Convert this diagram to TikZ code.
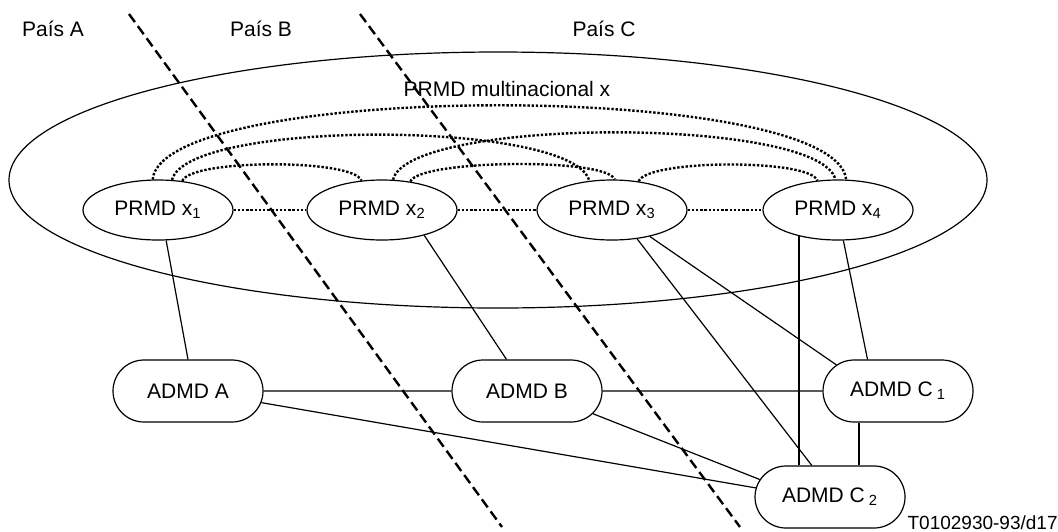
\documentclass[tikz,border=0pt]{standalone}
\usepackage{fontspec}
\setmainfont{Liberation Sans}
\usetikzlibrary{shapes.geometric,shapes.misc}

\begin{document}
\begin{tikzpicture}[x=0.5pt,y=-0.5pt,
  font=\fontsize{10.5}{12}\selectfont,
  prmd/.style={ellipse,draw,line width=0.6pt,minimum width=75pt,minimum height=30pt,inner sep=0pt},
  admd/.style={rounded rectangle,draw,line width=0.6pt,minimum width=75pt,minimum height=31pt,inner sep=0pt},
  enlace/.style={line width=0.6pt},
  grueso/.style={line width=1.1pt},
  punteado/.style={line width=1.2pt,dash pattern=on 1.2pt off 0.9pt},
  frontera/.style={line width=1.2pt,dash pattern=on 5pt off 2.5pt}]
\useasboundingbox (0,0) rectangle (1058,531);

% paises y fronteras
\node[anchor=base] (paisA) at (53,36) {País A};
\node[anchor=base] (paisB) at (261,36) {País B};
\node[anchor=base] (paisC) at (604,36) {País C};
\draw[frontera] (129,14) -- (502,527);
\draw[frontera] (360,14) -- (740,527);

% PRMD multinacional
\draw[enlace] (498,180) ellipse [x radius=244.5pt, y radius=64pt];
\node[anchor=base] (multi) at (507,96) {PRMD multinacional x};
\node[prmd] (x1) at (158,210) {PRMD x\textsubscript{1}};
\node[prmd] (x2) at (382,210) {PRMD x\textsubscript{2}};
\node[prmd] (x3) at (612,210) {PRMD x\textsubscript{3}};
\node[prmd] (x4) at (838,210) {PRMD x\textsubscript{4}};

\draw[punteado] (x1) -- (x2);
\draw[punteado] (x2) -- (x3);
\draw[punteado] (x3) -- (x4);
\draw[punteado] (x1.100) .. controls +(10,-99) and +(-10,-99) .. (x4.75);
\draw[punteado] (x1.65) .. controls +(15,-61) and +(-15,-61) .. (x3.128);
\draw[punteado] (x2.70) .. controls +(15,-63) and +(-15,-63) .. (x4.95);
\draw[punteado] (x1.50) .. controls +(8,-22) and +(-8,-22) .. (x2.125);
\draw[punteado] (x2.45) .. controls +(8,-22) and +(-8,-22) .. (x3.85);
\draw[punteado] (x3.47) .. controls +(8,-22) and +(-8,-22) .. (x4.125);

% ADMD
\node[admd] (ada) at (188,391) {ADMD A};
\node[admd] (adb) at (527,391) {ADMD B};
\node[admd] (adc1) at (898,391) {ADMD C\hspace{2pt}\textsubscript{1}};
\node[admd] (adc2) at (830,497) {ADMD C\hspace{2pt}\textsubscript{2}};

\draw[enlace] (x1.-75) -- (ada.north);
\draw[enlace] (x2.-31) -- (adb.123);
\draw[enlace] (x3.-49) -- (adc2.120);
\draw[enlace] (x3.-35) -- (adc1.157);
\draw[enlace] (x4.-80) -- (adc1.134);
\draw[grueso] (x4.-146) -- (x4.-146 |- adc2.north);
\draw[grueso] (adc1.-141) -- (adc1.-141 |- adc2.north);
\draw[enlace] (ada) -- (adb);
\draw[enlace] (adb) -- (adc1);
\draw[enlace] (ada.-9) -- (adc2.173);
\draw[enlace] (adb.-19) -- (adc2.166);

\node[anchor=base east,inner sep=0pt,font=\fontsize{9.5}{11}\selectfont] (ref) at (1058,529) {T0102930-93/d17};
\end{tikzpicture}
\end{document}
